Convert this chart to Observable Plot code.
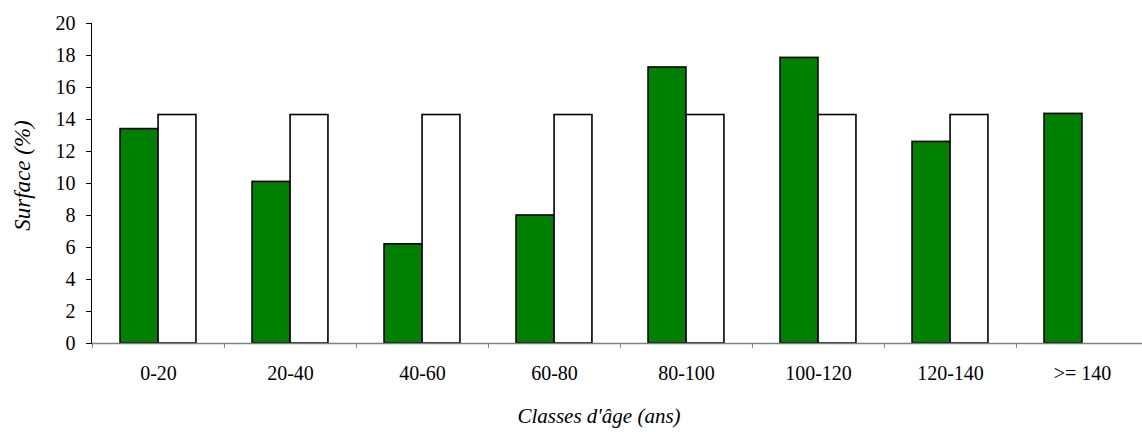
<!DOCTYPE html>
<html>
<head>
<meta charset="utf-8">
<script src="https://cdn.jsdelivr.net/npm/d3@7"></script>
<script src="https://cdn.jsdelivr.net/npm/@observablehq/plot@0.6"></script>
<style>
  html, body { margin: 0; padding: 0; background: #fff; font-family: "Liberation Serif"; }
  #chart svg { display: block; }
</style>
</head>
<body>
<div id="chart"></div>
<script>
// ---- data ----
const categories = ["0-20", "20-40", "40-60", "60-80", "80-100", "100-120", "120-140", ">= 140"];
const observedValues = [13.4, 10.1, 6.2, 8.0, 17.25, 17.85, 12.6, 14.35];
const balancedValues = [14.28, 14.28, 14.28, 14.28, 14.28, 14.28, 14.28, null];
const yTicks = [0, 2, 4, 6, 8, 10, 12, 14, 16, 18, 20];
const xTitle = "Classes d'âge (ans)";
const yTitle = "Surface (%)";

const observedRows = categories.map((c, i) => ({cat: c, value: observedValues[i]}));
const balancedRows = categories.map((c, i) => ({cat: c, value: balancedValues[i]})).filter(d => d.value != null);

// ---- layout ----
const W = 1142, H = 432;
const mL = 91, mR = -6, mT = 23, mB = 89;
const step = (W - mL - mR) / categories.length;
const half = step / 2;
const barW = 38;
const serif = "Liberation Serif";

const chart = Plot.plot({
  width: W,
  height: H,
  marginLeft: mL,
  marginRight: mR,
  marginTop: mT,
  marginBottom: mB,
  x: {domain: categories, padding: 0},
  y: {domain: [0, 20]},
  marks: [
    Plot.barY(observedRows, {x: "cat", y: "value", fill: "#008000", stroke: "#000", strokeWidth: 1.6,
      insetLeft: half - barW, insetRight: half}),
    Plot.barY(balancedRows, {x: "cat", y: "value", fill: "#fff", stroke: "#000", strokeWidth: 1.6,
      insetLeft: half, insetRight: half - barW}),
    Plot.ruleY([0], {stroke: "#808080", strokeWidth: 1.5}),
    Plot.frame({anchor: "left", stroke: "#000", strokeWidth: 1}),
    Plot.axisY({ticks: yTicks, tickSize: 5, tickPadding: 11, label: null, stroke: "#000", fill: "#000", fontSize: 20, fontFamily: serif}),
    Plot.axisX({ticks: categories, tickSize: 5, tickPadding: 0, tickFormat: () => "", label: null, dx: -half, stroke: "#808080"}),
    Plot.axisX({ticks: categories, tickSize: 0, tickPadding: 22, label: null, fill: "#000", fontSize: 20, fontFamily: serif}),
    Plot.text([yTitle], {frameAnchor: "left", textAnchor: "middle", lineAnchor: "middle", rotate: -90, dx: -69, dy: -8, fontStyle: "italic", fontSize: 23, fontFamily: serif, fill: "#000"}),
    Plot.text([xTitle], {frameAnchor: "bottom", textAnchor: "middle", lineAnchor: "middle", dy: 73, dx: -21, fontStyle: "italic", fontSize: 21, fontFamily: serif, fill: "#000"})
  ]
});
chart.setAttribute("font-family", serif);
chart.style.fontFamily = serif;
chart.querySelectorAll("g, text").forEach(el => {
  if (el.hasAttribute("font-family")) el.setAttribute("font-family", serif);
  el.style.fontFamily = serif;
});
document.getElementById("chart").append(chart);
</script>
</body>
</html>
